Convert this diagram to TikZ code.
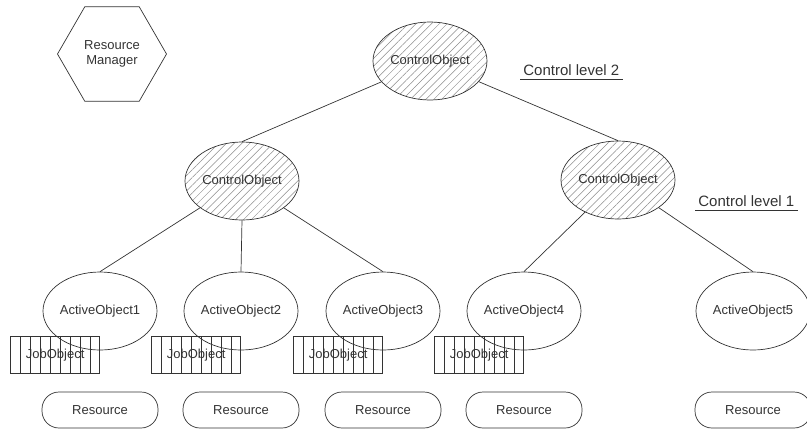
\documentclass[tikz,border=0pt]{standalone}
\usepackage{fontspec}
\setmainfont{Liberation Sans}
\usetikzlibrary{shapes.geometric,patterns.meta}
\tikzset{
  obj/.style={ellipse,draw,inner sep=0pt,minimum width=114pt,minimum height=78pt},
  ctrl/.style={obj,pattern={Lines[angle=45,distance=5.5pt,line width=0.5pt]},pattern color=black!45},
  job/.style={rectangle,draw,inner sep=0pt,minimum width=89pt,minimum height=37pt,anchor=north east,
    path picture={\foreach \k in {1,...,8}
      \draw[line width=0.5pt] ([xshift=\k*10pt]path picture bounding box.south west) -- ([xshift=\k*10pt]path picture bounding box.north west);}},
  res/.style={rectangle,draw,rounded corners=17pt,minimum width=116pt,minimum height=36pt},
  lvl/.style={inner xsep=3pt,inner ysep=3pt,anchor=south west,font=\fontsize{15}{17}\selectfont}
}
\begin{document}
\begin{tikzpicture}[x=1pt,y=-1pt,font=\fontsize{13}{15}\selectfont,color=black!80,line width=0.7pt]
  \useasboundingbox (0,0) rectangle (807,432);
  \node[regular polygon,regular polygon sides=6,draw,minimum size=109pt,inner sep=0pt,align=center] (rm) at (112,54) {Resource\\Manager};
  \node[ctrl] (top) at (430,61) {ControlObject};
  \node[ctrl] (cl) at (242,181) {ControlObject};
  \node[ctrl] (cr) at (618,180) {ControlObject};
  \foreach \i/\x in {1/100,2/241,3/383,4/524,5/753} {
    \node[obj] (a\i) at (\x,311) {ActiveObject\i};
    \node[res] (r\i) at (\x,410) {Resource};
  }
  \foreach \i in {1,...,4}
    \node[job] (j\i) at ([yshift=-25pt]a\i.center) {JobObject};
  \path
    (top) edge (cl.north) edge (cr.north)
    (cl) edge (a1.north)
    (cl.south) edge (a2.north)
    (cl) edge (a3.north)
    (cr) edge (a4.north)
    (cr) edge (a5.north);
  \node[lvl] (l2) at (520,79) {Control level 2};
  \draw (l2.south west) -- (l2.south east);
  \node[lvl] (l1) at (695,210) {Control level 1};
  \draw (l1.south west) -- (l1.south east);
\end{tikzpicture}
\end{document}
